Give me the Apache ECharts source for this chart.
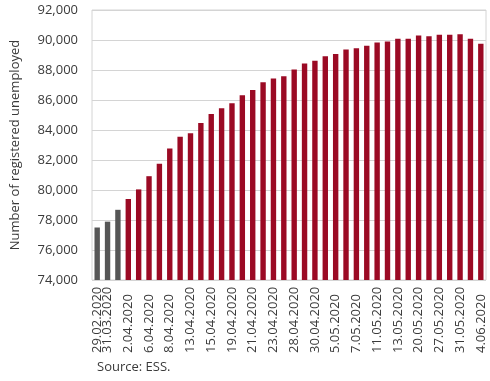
<!DOCTYPE html>
<html>
<head>
<meta charset="utf-8">
<script src="https://cdn.jsdelivr.net/npm/echarts@6/dist/echarts.min.js"></script>
<style>
html,body{margin:0;padding:0;background:#fff;}
#chart{width:490px;height:381px;}
</style>
</head>
<body>
<div id="chart"></div>
<script>
const categories = [
  '29.02.2020','31.03.2020','1.04.2020','2.04.2020','3.04.2020','6.04.2020','7.04.2020','8.04.2020',
  '9.04.2020','13.04.2020','14.04.2020','15.04.2020','16.04.2020','19.04.2020','20.04.2020','21.04.2020',
  '22.04.2020','23.04.2020','24.04.2020','28.04.2020','29.04.2020','30.04.2020','4.05.2020','5.05.2020',
  '6.05.2020','7.05.2020','8.05.2020','11.05.2020','12.05.2020','13.05.2020','15.05.2020','20.05.2020',
  '22.05.2020','27.05.2020','29.05.2020','31.05.2020','2.06.2020','4.06.2020'
];
const unemployed = [
  77500, 77890, 78680, 79400, 80040, 80920, 81750, 82760,
  83550, 83780, 84470, 85070, 85450, 85780, 86310, 86670,
  87180, 87440, 87580, 88040, 88440, 88620, 88910, 89070,
  89360, 89450, 89610, 89840, 89900, 90090, 90090, 90300,
  90244, 90345, 90345, 90390, 90090, 89756
];
const monthlyCount = 3; // first bars are month-end figures (grey)
const yTicks = { min: 74000, max: 92000, step: 2000 };

const RED = '#9b0a24';
const GREY = '#565656';
const TXT = '#3a3a3a';
const FONT = '"Open Sans", "Noto Sans", sans-serif';

function xLabelStyle(intervalFn) {
  return {
    rotate: 90,
    align: 'left',
    margin: 73,
    interval: intervalFn,
    hideOverlap: false,
    color: TXT,
    fontFamily: FONT,
    fontSize: 13
  };
}

const chart = echarts.init(document.getElementById('chart'), null, { renderer: 'canvas' });
chart.setOption({
  animation: false,
  backgroundColor: '#ffffff',
  grid: {
    left: 92, top: 10, width: 394, height: 270,
    show: true, borderColor: '#d4d4d4', borderWidth: 1,
    containLabel: false, outerBoundsMode: 'none'
  },
  xAxis: [{
    type: 'category',
    data: categories,
    axisLine: { show: false },
    axisTick: { show: false },
    axisLabel: xLabelStyle(function (i) { return i % 2 === 1; })
  }, {
    type: 'category',
    data: categories,
    position: 'bottom',
    axisLine: { show: false },
    axisTick: { show: false },
    splitLine: { show: false },
    axisLabel: Object.assign(xLabelStyle(function (i) { return i === 0; }), { showMinLabel: true })
  }],
  yAxis: {
    type: 'value',
    min: yTicks.min, max: yTicks.max, interval: yTicks.step,
    name: 'Number of registered unemployed',
    nameLocation: 'middle',
    nameGap: 70,
    nameTextStyle: { color: TXT, fontFamily: FONT, fontSize: 13 },
    axisLine: { show: false },
    axisTick: { show: false },
    splitLine: { lineStyle: { color: '#d4d4d4', width: 1 } },
    axisLabel: {
      margin: 14,
      color: TXT,
      fontFamily: FONT,
      fontSize: 13,
      formatter: function (v) { return v.toLocaleString('en-US'); }
    }
  },
  series: [{
    type: 'bar',
    xAxisIndex: 0,
    data: unemployed,
    barCategoryGap: '48%',
    itemStyle: {
      color: function (p) { return p.dataIndex < monthlyCount ? GREY : RED; }
    }
  }],
  graphic: [{
    type: 'text',
    left: 97, top: 361,
    style: { text: 'Source: ESS.', fill: TXT, font: '13px ' + FONT }
  }]
});
</script>
</body>
</html>
